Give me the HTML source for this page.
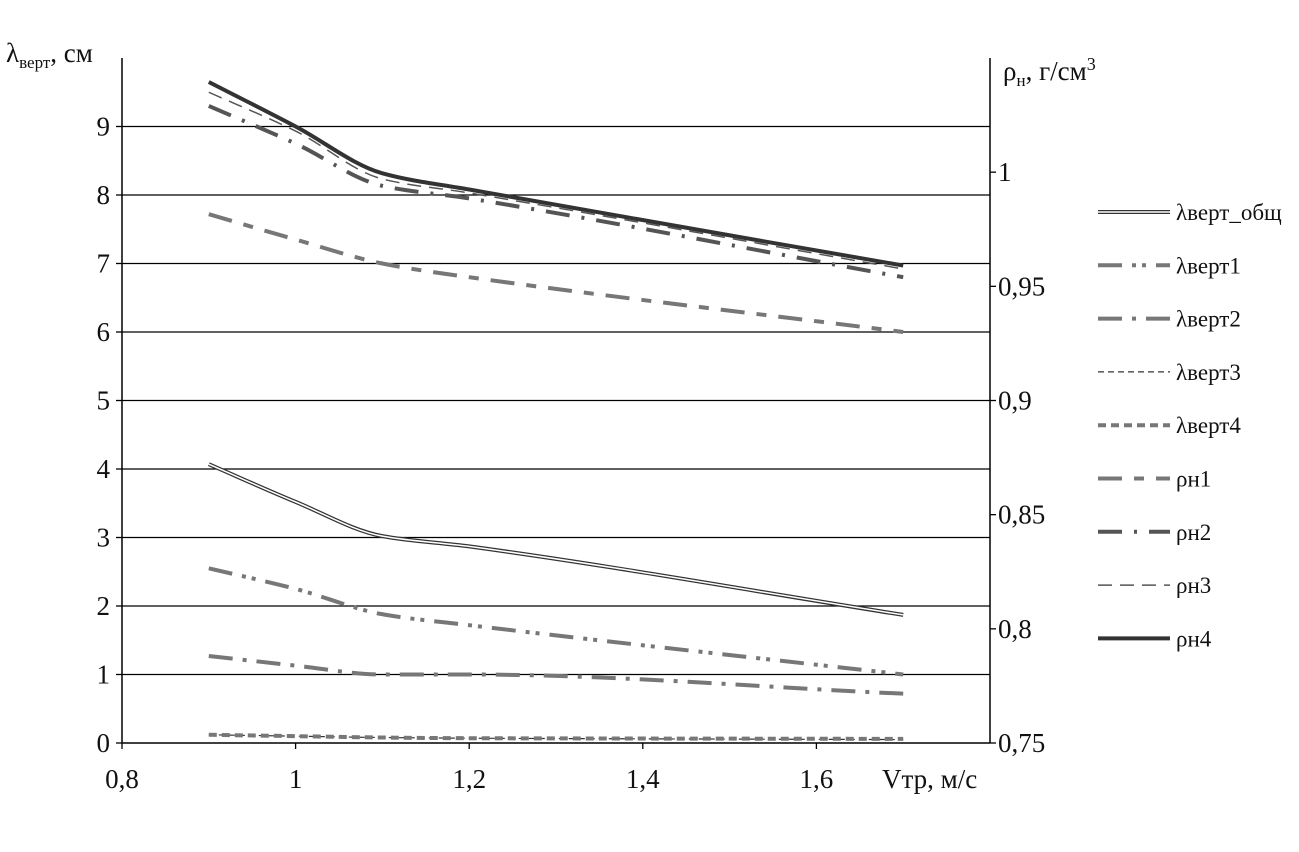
<!DOCTYPE html>
<html><head><meta charset="utf-8"><style>
body{margin:0;background:#fff;}
svg text{font-family:"Liberation Serif",serif;fill:#111;}
</style></head><body>
<svg width="1299" height="847" viewBox="0 0 1299 847" xmlns="http://www.w3.org/2000/svg">
<g id="grid"></g>
<g id="axes"></g>
<g id="series"></g>
<g id="legend"></g>
<text x="6" y="62" font-size="27">λ<tspan font-size="17" dy="6">верт</tspan><tspan dy="-6">, см</tspan></text>
<text x="1003" y="80" font-size="27">ρ<tspan font-size="17" dy="6">н</tspan><tspan dy="-6">, г/см</tspan><tspan font-size="18" dy="-10">3</tspan></text>
<text x="882" y="788" font-size="27">Vтр, м/с</text>
</svg>
<script>
const xs=[0.9,1.0,1.1,1.2,1.7];
const lamObsh=[4.07,3.52,3.02,2.87,1.87];
const lam1=[2.55,2.25,1.88,1.72,1.0];
const lam2=[1.27,1.13,1.0,1.0,0.72];
const lam3=[0.12,0.1,0.08,0.07,0.05];
const lam4=[0.12,0.1,0.08,0.07,0.06];
const rho1=[0.9816,0.9705,0.96,0.954,0.93];
const rho2=[1.029,1.0125,0.994,0.9885,0.954];
const rho3=[1.035,1.018,0.997,0.9909,0.9576];
const rho4=[1.0395,1.02,0.9995,0.9924,0.9591];
const leftTicks=[0,1,2,3,4,5,6,7,8,9];
const rightTicks=[0.75,0.8,0.85,0.9,0.95,1];
const xTicks=[0.8,1,1.2,1.4,1.6];
const NS="http://www.w3.org/2000/svg";
const X0=122,X1=990,Y0=743,Y1=58;
const sx=v=>X0+(v-0.8)/1.0*(X1-X0);
const syL=v=>Y0-v/10*(Y0-Y1);
const syR=v=>Y0-(v-0.75)/0.3*(Y0-Y1);
function mk(tag,attrs,parent){const e=document.createElementNS(NS,tag);for(const k in attrs)e.setAttribute(k,attrs[k]);document.getElementById(parent).appendChild(e);return e;}
const fmt=v=>String(v).replace('.',',');
leftTicks.forEach(t=>{
 if(t>0){const l=mk('line',{x1:X0,x2:X1,y1:syL(t),y2:syL(t),stroke:'#000','stroke-width':1.3},'grid');
 }
 const tx=mk('text',{x:X0-12,y:syL(t)+9,'text-anchor':'end','font-size':27},'axes');tx.textContent=fmt(t);
 
 const tk=mk('line',{x1:X0-6,x2:X0,y1:syL(t),y2:syL(t),stroke:'#000','stroke-width':1.3},'axes');
 
});
rightTicks.forEach(t=>{
 const tx=mk('text',{x:X1+8,y:syR(t)+9,'font-size':27},'axes');tx.textContent=fmt(t);
 
 const tk=mk('line',{x1:X1,x2:X1+6,y1:syR(t),y2:syR(t),stroke:'#000','stroke-width':1.3},'axes');
 
});
xTicks.forEach(t=>{
 const tx=mk('text',{x:sx(t),y:Y0+45,'text-anchor':'middle','font-size':27},'axes');tx.textContent=fmt(t);
 
 const tk=mk('line',{x1:sx(t),x2:sx(t),y1:Y0,y2:Y0+6,stroke:'#000','stroke-width':1.3},'axes');
 
});
[{x1:X0,x2:X0,y1:Y1,y2:Y0},{x1:X1,x2:X1,y1:Y1,y2:Y0},{x1:X0,x2:X1,y1:Y0,y2:Y0}].forEach(a=>{
 a.stroke='#000';a['stroke-width']=1.5;const e=mk('line',a,'axes');
 
});
function pathD(pts){
 const n=pts.length,d=[],m=new Array(n);
 for(let i=0;i<n-1;i++)d.push((pts[i+1][1]-pts[i][1])/(pts[i+1][0]-pts[i][0]));
 m[0]=d[0];m[n-1]=d[n-2];
 for(let i=1;i<n-1;i++){m[i]=(d[i-1]*d[i]<=0)?0:2/(1/d[i-1]+1/d[i]);}
 let s='M'+pts[0][0]+','+pts[0][1];
 for(let i=0;i<n-1;i++){
  const h=(pts[i+1][0]-pts[i][0])/3;
  s+=' C'+(pts[i][0]+h)+','+(pts[i][1]+m[i]*h)+' '+(pts[i+1][0]-h)+','+(pts[i+1][1]-m[i+1]*h)+' '+pts[i+1][0]+','+pts[i+1][1];
 }
 return s;
}
const styles={
 lamObsh:{name:'λверт_общ',data:lamObsh,ax:syL,stroke:'#333',w:4,dash:'',inner:true},
 lam1:{name:'λверт1',data:lam1,ax:syL,stroke:'#777',w:4,dash:'24 10 4 6 4 10'},
 lam2:{name:'λверт2',data:lam2,ax:syL,stroke:'#777',w:4,dash:'24 10 4 10'},
 lam3:{name:'λверт3',data:lam3,ax:syL,stroke:'#333',w:1.2,dash:'6 4'},
 lam4:{name:'λверт4',data:lam4,ax:syL,stroke:'#777',w:4,dash:'8 5'},
 rho1:{name:'ρн1',data:rho1,ax:syR,stroke:'#777',w:4,dash:'24 12 10 12'},
 rho2:{name:'ρн2',data:rho2,ax:syR,stroke:'#555',w:4,dash:'24 12 3 12'},
 rho3:{name:'ρн3',data:rho3,ax:syR,stroke:'#555',w:1.5,dash:'14 8'},
 rho4:{name:'ρн4',data:rho4,ax:syR,stroke:'#333',w:4,dash:''}
};
let li=0;
for(const k in styles){
 const s=styles[k];
 const pts=xs.map((x,i)=>[sx(x),s.ax(s.data[i])]);
 const p=mk('path',{d:pathD(pts),fill:'none',stroke:s.stroke,'stroke-width':s.w,'stroke-dasharray':s.dash},'series');
 
 if(s.inner){const q=mk('path',{d:pathD(pts),fill:'none',stroke:'#fff','stroke-width':1.5},'series');
  }
 const ly=212+li*53.3;
 const ll=mk('line',{x1:1098,x2:1170,y1:ly,y2:ly,stroke:s.stroke,'stroke-width':s.w,'stroke-dasharray':s.dash},'legend');
 
 if(s.inner){const q=mk('line',{x1:1098,x2:1170,y1:ly,y2:ly,stroke:'#fff','stroke-width':1.5},'legend');
  }
 const t=mk('text',{x:1176,y:ly+8,'font-size':23},'legend');t.textContent=s.name;
 
 li++;
}
</script>
</body></html>
